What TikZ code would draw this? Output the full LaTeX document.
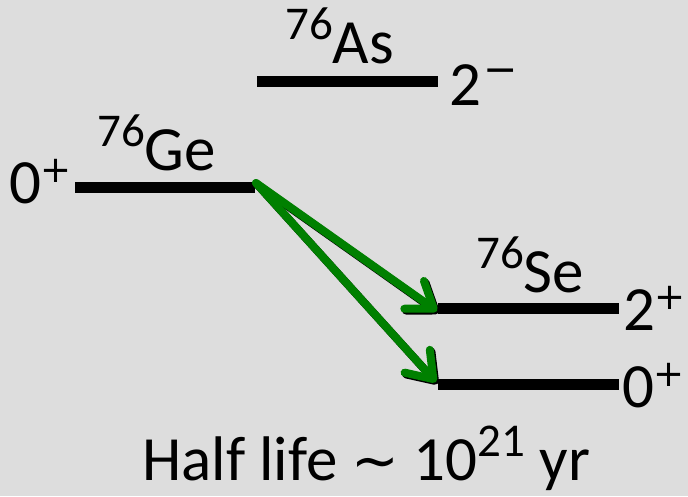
\documentclass[tikz,border=0pt]{standalone}
\usepackage{fontspec}
\setmainfont{Carlito}
\newfontfamily\dejavu{DejaVu Sans}
\usetikzlibrary{arrows.meta}
\definecolor{bg}{RGB}{221,221,221}
\definecolor{arrgreen}{RGB}{0,128,0}
\newcommand\supr[1]{\raisebox{0.38em}{\fontsize{47}{47}\selectfont #1}}
\newcommand\supminus{\hspace{2pt}\raisebox{22pt}{\dejavu\fontsize{41}{41}\selectfont −}}
\newcommand\supplus{\hspace{-1pt}\raisebox{21pt}{\dejavu\fontsize{37}{37}\selectfont +}}
\newcommand\simsign{{\dejavu\fontsize{57}{57}\selectfont ∼}}
\tikzset{
  level/.style={line width=11pt, black},
  lbl/.style={anchor=base west, inner sep=0pt, font=\fontsize{63}{70}\selectfont},
  arr/.style={line width=8pt, draw=arrgreen, line cap=round, line join=round,
    -{Straight Barb[length=24pt, width=34pt, line width=8pt, round]}},
  arrshadow/.style={arr, draw=black, transform canvas={shift={(1.6pt,-1.8pt)}}}
}
\begin{document}
\begin{tikzpicture}[x=1pt,y=-1pt]
\fill[bg] (0,0) rectangle (688,496);
\useasboundingbox (0,0) rectangle (688,496);
% levels
\coordinate (geL) at (75,187);
\coordinate (geR) at (255,187);
\coordinate (asL) at (257,81.5);
\coordinate (asR) at (438,81.5);
\coordinate (se2L) at (438,308.5);
\coordinate (se2R) at (619,308.5);
\coordinate (se0L) at (438,384);
\coordinate (se0R) at (619,384);
\coordinate (start) at (256,183);
\coordinate (tip2) at (437,311);
\coordinate (tip0) at (436,382);
\draw[level] (geL) -- (geR);
\draw[level] (asL) -- (asR);
\draw[level] (se2L) -- (se2R);
\draw[level] (se0L) -- (se0R);
% labels
\node[lbl] (gespin) at (9,203) {0\supplus};
\node[lbl] (gename) at (97,170) {\supr{76}Ge};
\node[lbl] (asname) at (285,63) {\supr{76}As};
\node[lbl] (asspin) at (449,105) {2\supminus};
\node[lbl] (sename) at (476,292) {\supr{76}Se};
\node[lbl] (se2spin) at (623,330) {2\supplus};
\node[lbl] (se0spin) at (622,407) {0\supplus};
\node[lbl] (half) at (142,480) {Half life \simsign{} 10\supr{21} yr};
% arrows
\draw[arrshadow] (start) -- (tip2);
\draw[arrshadow] (start) -- (tip0);
\draw[arr] (start) -- (tip2);
\draw[arr] (start) -- (tip0);
\end{tikzpicture}
\end{document}
